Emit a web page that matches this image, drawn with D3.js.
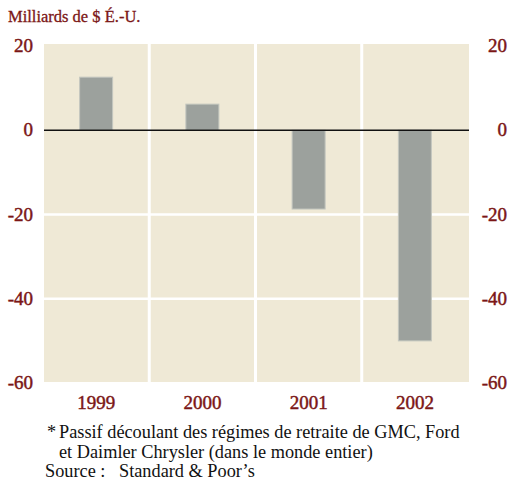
<!DOCTYPE html>
<html><head><meta charset="utf-8">
<script src="https://cdn.jsdelivr.net/npm/d3@7"></script>
<style>html,body{margin:0;padding:0;background:#fff;}</style>
</head><body>
<svg id="c" width="510" height="480"></svg>
<script>
const years = ["1999", "2000", "2001", "2002"];
const values = [12.6, 6.2, -18.7, -50.0];
const yTicks = [20, 0, -20, -40, -60];
const title = "Milliards de $ É.-U.";
const notes = ["Passif découlant des régimes de retraite de GMC, Ford", "et Daimler Chrysler (dans le monde entier)"];
const source = ["Source :", "Standard & Poor’s"];

const svg = d3.select("#c");
const red = "#7b1616";
const L = 44, R = 469, T = 44, B = 382;
const x = d3.scaleBand().domain(years).range([L, R]).padding(0);
const y = d3.scaleLinear().domain([-60, 20]).range([383, 46]);

svg.append("rect").attr("x", L).attr("y", T).attr("width", R - L).attr("height", B - T).attr("fill", "#efe9d6");

svg.selectAll("line.hg").data(yTicks.filter(v => v !== 0 && v !== 20 && v !== -60)).enter().append("line")
  .attr("x1", L).attr("x2", R).attr("y1", d => y(d)).attr("y2", d => y(d))
  .attr("stroke", "#fff").attr("stroke-width", 2.5);
svg.selectAll("line.vg").data(years.slice(1)).enter().append("line")
  .attr("x1", d => x(d) - 1).attr("x2", d => x(d) - 1).attr("y1", T).attr("y2", B)
  .attr("stroke", "#fff").attr("stroke-width", 3);

const bw = 33;
svg.selectAll("rect.bar").data(values).enter().append("rect")
  .attr("x", (d, i) => x(years[i]) + x.bandwidth() / 2 - bw / 2 - 1)
  .attr("y", d => Math.min(y(d), y(0)))
  .attr("width", bw)
  .attr("height", d => Math.abs(y(d) - y(0)))
  .attr("fill", "#9ca19d").attr("stroke", "#c3c6bf").attr("stroke-width", 1);

svg.append("line").attr("x1", L).attr("x2", R).attr("y1", y(0)).attr("y2", y(0))
  .attr("stroke", "#111").attr("stroke-width", 1.5);

const font = "'Liberation Serif', serif";
const fmt = d => String(d);
function semi(sel) {
  sel.attr("fill", red).attr("stroke", red).attr("stroke-width", 0.45)
    .style("font-family", font).style("font-size", "19px");
}
function styleAxis(g) {
  g.select(".domain").remove();
  semi(g.selectAll("text").attr("dy", "0.3em").attr("x", 0));
}
const gl = svg.append("g").attr("transform", "translate(33,0)")
  .call(d3.axisLeft(y).tickValues(yTicks).tickSize(0).tickPadding(0).tickFormat(fmt));
styleAxis(gl);
const gr = svg.append("g").attr("transform", "translate(507,0)")
  .call(d3.axisLeft(y).tickValues(yTicks).tickSize(0).tickPadding(0).tickFormat(fmt));
styleAxis(gr);

const gx = svg.append("g").attr("transform", "translate(0,396)").call(d3.axisBottom(x).tickSize(0).tickPadding(0));
gx.select(".domain").remove();
semi(gx.selectAll("text").attr("dy", "0.7em").attr("dx", "-1"));

svg.append("text").attr("x", 8).attr("y", 22).text(title).attr("fill", red)
  .attr("stroke", red).attr("stroke-width", 0.3)
  .style("font-family", font).style("font-size", "16.5px");

const nf = "'Liberation Serif', serif";
const ns = "18.3px";
svg.append("text").attr("x", 47).attr("y", 438).text("*").style("font-family", nf).style("font-size", ns).attr("fill", "#111");
svg.selectAll("text.note").data(notes).enter().append("text")
  .attr("x", 59).attr("y", (d, i) => 438 + i * 19.5).text(d => d)
  .style("font-family", nf).style("font-size", ns).attr("fill", "#111");
svg.append("text").attr("x", 45).attr("y", 477).text(source[0]).style("font-family", nf).style("font-size", ns).attr("fill", "#111");
svg.append("text").attr("x", 119).attr("y", 477).text(source[1]).style("font-family", nf).style("font-size", ns).attr("fill", "#111");
</script>
</body></html>
